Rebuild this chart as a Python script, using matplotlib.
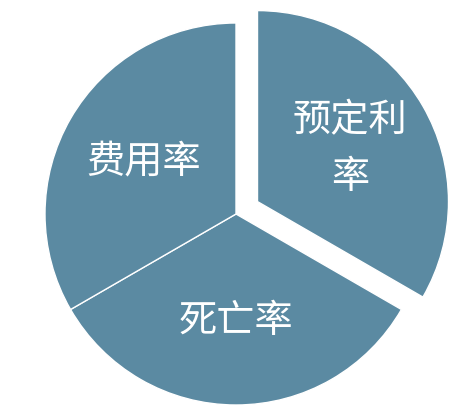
import matplotlib
matplotlib.use("Agg")
import matplotlib.pyplot as plt

plt.rcParams['font.family'] = ['Noto Sans CJK SC', 'DejaVu Sans']

labels = ["预定利\n率", "死亡率", "费用率"]
values = [1, 1, 1]
explode = [0.13, 0, 0]
color = "#5b8aa2"

W, H = 473, 414
cx, cy, R = 236, 215, 191  # pixel center (from top) and radius

fig = plt.figure(figsize=(W / 100, H / 100), dpi=100)
ax = fig.add_axes([0, 0, 1, 1])
ax.pie(values, labels=labels, explode=explode, colors=[color] * 3,
       startangle=90, counterclock=False, labeldistance=0.56,
       wedgeprops=dict(edgecolor="white", linewidth=1.0),
       textprops=dict(color="white", fontsize=27.5, ha="center", va="center",
                      multialignment="center", linespacing=1.6))
ax.set_xlim(-cx / R, (W - cx) / R)
ax.set_ylim(-(H - cy) / R, cy / R)
ax.set_aspect("auto")
ax.axis("off")
fig.savefig("out.png", dpi=100, facecolor="white")
